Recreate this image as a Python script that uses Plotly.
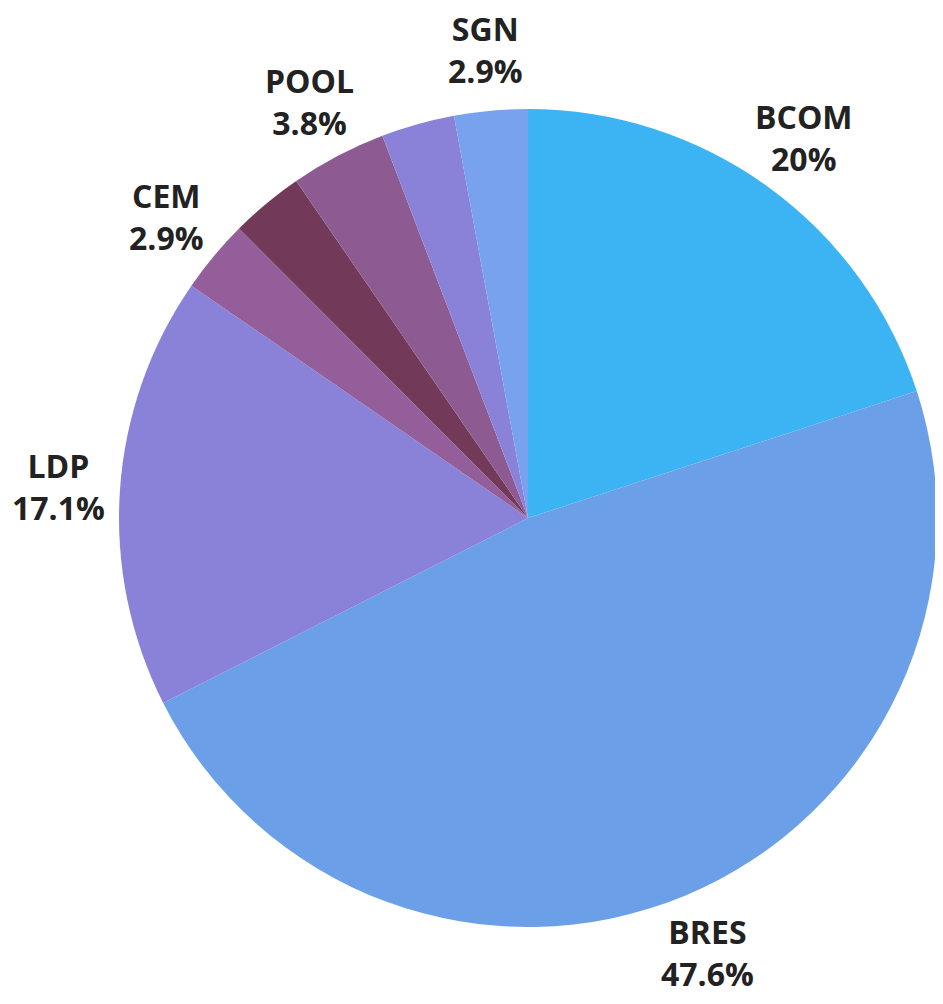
import math
import plotly.graph_objects as go

labels = ["BCOM", "BRES", "LDP", "CEM", "Other A", "POOL", "Other B", "SGN"]
values = [20, 47.6, 17.1, 2.9, 2.9, 3.8, 2.9, 2.9]
show_label = [True, True, True, True, False, True, False, True]
colors = ["#3cb4f4", "#6b9fe8", "#8a81d9", "#935e9a", "#723a58", "#8d5b92", "#8a82d8", "#78a2ed"]

W, H = 943, 1004
margin = dict(l=111, r=14, t=101, b=85)
label_radius = 1.15  # label centre distance, in pie radii

fig = go.Figure(go.Pie(
    labels=labels,
    values=values,
    textinfo="none",
    sort=False,
    direction="clockwise",
    rotation=0,
    marker=dict(colors=colors, line=dict(width=0)),
    showlegend=False,
    hoverinfo="label+value",
))

# labels placed along each slice's mid-angle, outside the pie
pw = W - margin["l"] - margin["r"]
ph = H - margin["t"] - margin["b"]
diam = min(pw, ph)
total = sum(values)
cum = 0.0
for l, v, s in zip(labels, values, show_label):
    mid = (cum + v / 2) / total * 2 * math.pi
    cum += v
    if not s:
        continue
    fig.add_annotation(
        x=0.5 + label_radius * diam / 2 * math.sin(mid) / pw,
        y=0.5 + label_radius * diam / 2 * math.cos(mid) / ph,
        xref="paper", yref="paper",
        xanchor="center", yanchor="middle",
        text=f"{l}<br>{v:g}%",
        showarrow=False,
        align="center",
        font=dict(family="Open Sans", size=32, color="#222222", weight="bold"),
    )

fig.update_layout(
    width=W, height=H,
    margin=margin,
    paper_bgcolor="white",
    plot_bgcolor="white",
)

fig.write_html("out.html")
